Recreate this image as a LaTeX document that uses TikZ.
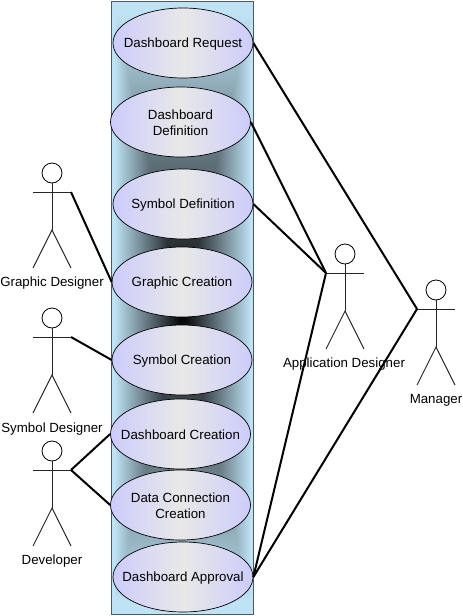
\documentclass[tikz,border=0pt]{standalone}
\usepackage{fontspec}
\setmainfont{Liberation Sans}
\usetikzlibrary{calc,shapes.geometric}
\definecolor{mycolorl}{HTML}{CCCCFC}
\definecolor{mycolorc}{HTML}{E8E8E8}
\definecolor{mycolorf}{HTML}{4A5A60}
\pgfdeclarefunctionalshading{myglow}{\pgfpoint{0bp}{0bp}}{\pgfpoint{100bp}{100bp}}{}{
  50 sub abs 24 div exch 50 sub abs 24 div
  2 copy lt {exch} if pop
  dup 1 gt {pop 1} if
  dup 0.75 mul exch dup 0.89 mul exch 0.96 mul
}
\newcommand{\myactor}[1]{
  \path (#1) + (-19pt,-19pt) coordinate (#1left);
  \path (#1) + (19pt,-19pt) coordinate (#1right);
  \path (#1) + (0,-57pt) coordinate (#1hip);
  \path (#1hip) + (-19pt,-38pt) coordinate (#1foot1);
  \path (#1hip) + (19pt,-38pt) coordinate (#1foot2);
  \node (#1head) [actorhead] at (#1) {};
  \draw [actorline] (#1head) -- (#1hip);
  \draw [actorline] (#1left) -- (#1right);
  \draw [actorline] (#1foot1) -- (#1hip) -- (#1foot2);
}

\begin{document}
\begin{tikzpicture}
\tikzstyle{caselabel}=[align=center,inner sep=0pt,yshift=-0.8pt,font=\fontsize{13.3}{16}\selectfont]
\tikzstyle{usecase}=[ellipse,draw=black,line width=0.7pt,inner sep=0pt,minimum width=140pt,minimum height=70pt,left color=mycolorl,right color=mycolorl,middle color=mycolorc]
\tikzstyle{actorhead}=[circle,draw=black,line width=0.8pt,inner sep=0pt,minimum size=20pt]
\tikzstyle{actorline}=[line width=0.9pt,color=black!85]
\tikzstyle{assoc}=[line width=2pt,color=black]
\tikzstyle{actorlabel}=[font=\fontsize{13.3}{16}\selectfont,inner sep=0pt,yshift=-0.8pt]

\useasboundingbox (0,0) rectangle (463pt,-616pt);

\node (system) [draw=mycolorf,line width=1pt,minimum width=142.5pt,minimum height=613pt,inner sep=0pt,shading=myglow] at (182.5pt,-307.5pt) {};

\node (request) [usecase,label={[caselabel]center:Dashboard Request}] at (183pt,-43pt) {};
\node (definition) [usecase,label={[caselabel]center:Dashboard\\Definition}] at (180.5pt,-122pt) {};
\node (symboldef) [usecase,label={[caselabel]center:Symbol Definition}] at (183pt,-204pt) {};
\node (graphiccr) [usecase,label={[caselabel]center:Graphic Creation}] at (182pt,-282pt) {};
\node (symbolcr) [usecase,label={[caselabel]center:Symbol Creation}] at (182pt,-360pt) {};
\node (dashcr) [usecase,label={[caselabel]center:Dashboard Creation}] at (180.5pt,-434pt) {};
\node (datacr) [usecase,label={[caselabel]center:Data Connection\\Creation}] at (180.5pt,-505pt) {};
\node (approval) [usecase,label={[caselabel]center:Dashboard Approval}] at (183pt,-577pt) {};

\coordinate (graphic) at (52pt,-173pt);
\coordinate (symbol) at (52pt,-318pt);
\coordinate (developer) at (52pt,-451pt);
\coordinate (appdesigner) at (345pt,-254pt);
\coordinate (manager) at (436pt,-290pt);

\myactor{graphic}
\myactor{symbol}
\myactor{developer}
\myactor{appdesigner}
\myactor{manager}

\node (L1) [actorlabel] at (52pt,-282pt) {Graphic Designer};
\node (L2) [actorlabel] at (52pt,-428pt) {Symbol Designer};
\node (L3) [actorlabel] at (52pt,-560pt) {Developer};
\node (L4) [actorlabel] at (344pt,-363pt) {Application Designer};
\node (L5) [actorlabel] at (436pt,-399pt) {Manager};

\draw [assoc] (graphicright) -- (graphiccr.west);
\draw [assoc] (symbolright) -- (symbolcr.west);
\draw [assoc] (developerright) -- (dashcr.west);
\draw [assoc] (developerright) -- (datacr.west);
\draw [assoc] (appdesignerleft) -- (definition.east);
\draw [assoc] (appdesignerleft) -- (symboldef.east);
\draw [assoc] (appdesignerleft) -- (approval.east);
\draw [assoc] (managerleft) -- (request.east);
\draw [assoc] (managerleft) -- (approval.east);

\end{tikzpicture}
\end{document}
